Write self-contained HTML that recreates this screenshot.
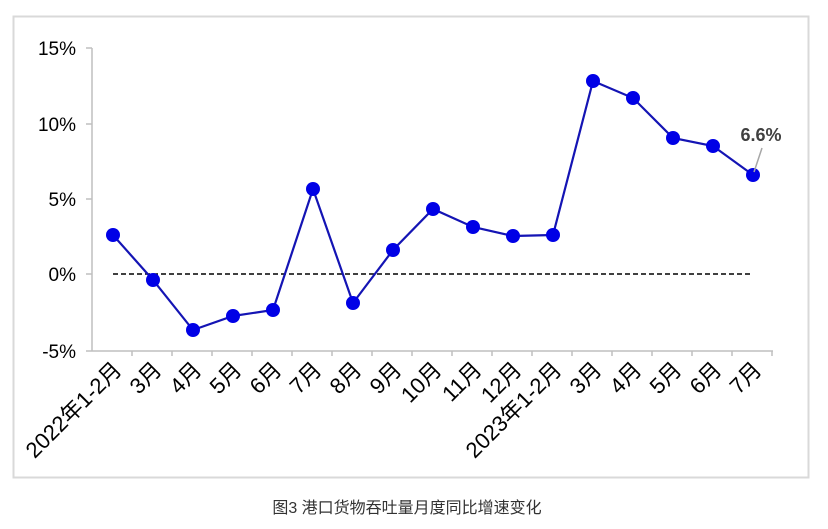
<!DOCTYPE html>
<html><head><meta charset="utf-8"><style>
body{margin:0;background:#fff}
svg{display:block}
text{font-family:"Liberation Sans","Noto Sans CJK SC",sans-serif}
</style></head><body>
<svg width="828" height="529" viewBox="0 0 828 529" xmlns="http://www.w3.org/2000/svg">
<rect x="13.5" y="16.5" width="795" height="461" fill="#fff" stroke="#d9d9d9" stroke-width="2"/>
<g stroke="#bfbfbf" stroke-width="1.5">
<line x1="92" y1="48" x2="92" y2="351"/>
<line x1="92" y1="351" x2="773" y2="351"/>
<line x1="86" y1="48" x2="92" y2="48"/><line x1="86" y1="124" x2="92" y2="124"/><line x1="86" y1="199" x2="92" y2="199"/><line x1="86" y1="274" x2="92" y2="274"/><line x1="86" y1="351" x2="92" y2="351"/>
</g>
<g font-size="19" fill="#000" text-anchor="end">
<text x="76" y="55">15%</text><text x="76" y="131">10%</text><text x="76" y="206">5%</text><text x="76" y="281">0%</text><text x="76" y="358">-5%</text>
</g>
<line x1="113" y1="274" x2="753" y2="274" stroke="#000" stroke-width="1.5" stroke-dasharray="5,3"/>
<polyline fill="none" stroke="#1414b4" stroke-width="2.2" points="113,235 153,280 193,330 233,316 273,310 313,189 353,303 393,250 433,209 473,227 513,236 553,235 593,81 633,98 673,138 713,146 753,175"/>
<g fill="#0000e6">
<circle cx="113" cy="235" r="7"/><circle cx="153" cy="280" r="7"/><circle cx="193" cy="330" r="7"/><circle cx="233" cy="316" r="7"/><circle cx="273" cy="310" r="7"/><circle cx="313" cy="189" r="7"/><circle cx="353" cy="303" r="7"/><circle cx="393" cy="250" r="7"/><circle cx="433" cy="209" r="7"/><circle cx="473" cy="227" r="7"/><circle cx="513" cy="236" r="7"/><circle cx="553" cy="235" r="7"/><circle cx="593" cy="81" r="7"/><circle cx="633" cy="98" r="7"/><circle cx="673" cy="138" r="7"/><circle cx="713" cy="146" r="7"/><circle cx="753" cy="175" r="7"/>
</g>
<line x1="754" y1="172" x2="762" y2="148" stroke="#a6a6a6" stroke-width="1.5"/>
<text x="761" y="141" font-size="18" font-weight="bold" fill="#404040" text-anchor="middle">6.6%</text>
<g stroke="#bfbfbf" stroke-width="1.5">
<line x1="132" y1="351" x2="132" y2="356"/><line x1="172" y1="351" x2="172" y2="356"/><line x1="212" y1="351" x2="212" y2="356"/><line x1="252" y1="351" x2="252" y2="356"/><line x1="292" y1="351" x2="292" y2="356"/><line x1="332" y1="351" x2="332" y2="356"/><line x1="372" y1="351" x2="372" y2="356"/><line x1="412" y1="351" x2="412" y2="356"/><line x1="452" y1="351" x2="452" y2="356"/><line x1="492" y1="351" x2="492" y2="356"/><line x1="532" y1="351" x2="532" y2="356"/><line x1="572" y1="351" x2="572" y2="356"/><line x1="612" y1="351" x2="612" y2="356"/><line x1="652" y1="351" x2="652" y2="356"/><line x1="692" y1="351" x2="692" y2="356"/><line x1="732" y1="351" x2="732" y2="356"/><line x1="772" y1="351" x2="772" y2="356"/>
</g>
<g font-size="22" fill="#000" text-anchor="end">
<text transform="translate(123,371) rotate(-45)">2022年1-2月</text>
<text transform="translate(163,371) rotate(-45)">3月</text>
<text transform="translate(203,371) rotate(-45)">4月</text>
<text transform="translate(243,371) rotate(-45)">5月</text>
<text transform="translate(283,371) rotate(-45)">6月</text>
<text transform="translate(323,371) rotate(-45)">7月</text>
<text transform="translate(363,371) rotate(-45)">8月</text>
<text transform="translate(403,371) rotate(-45)">9月</text>
<text transform="translate(443,371) rotate(-45)">10月</text>
<text transform="translate(483,371) rotate(-45)">11月</text>
<text transform="translate(523,371) rotate(-45)">12月</text>
<text transform="translate(563,371) rotate(-45)">2023年1-2月</text>
<text transform="translate(603,371) rotate(-45)">3月</text>
<text transform="translate(643,371) rotate(-45)">4月</text>
<text transform="translate(683,371) rotate(-45)">5月</text>
<text transform="translate(723,371) rotate(-45)">6月</text>
<text transform="translate(763,371) rotate(-45)">7月</text>
</g>
<text x="407" y="513" font-size="16" fill="#333" text-anchor="middle">图3 港口货物吞吐量月度同比增速变化</text>
</svg>
</body></html>
